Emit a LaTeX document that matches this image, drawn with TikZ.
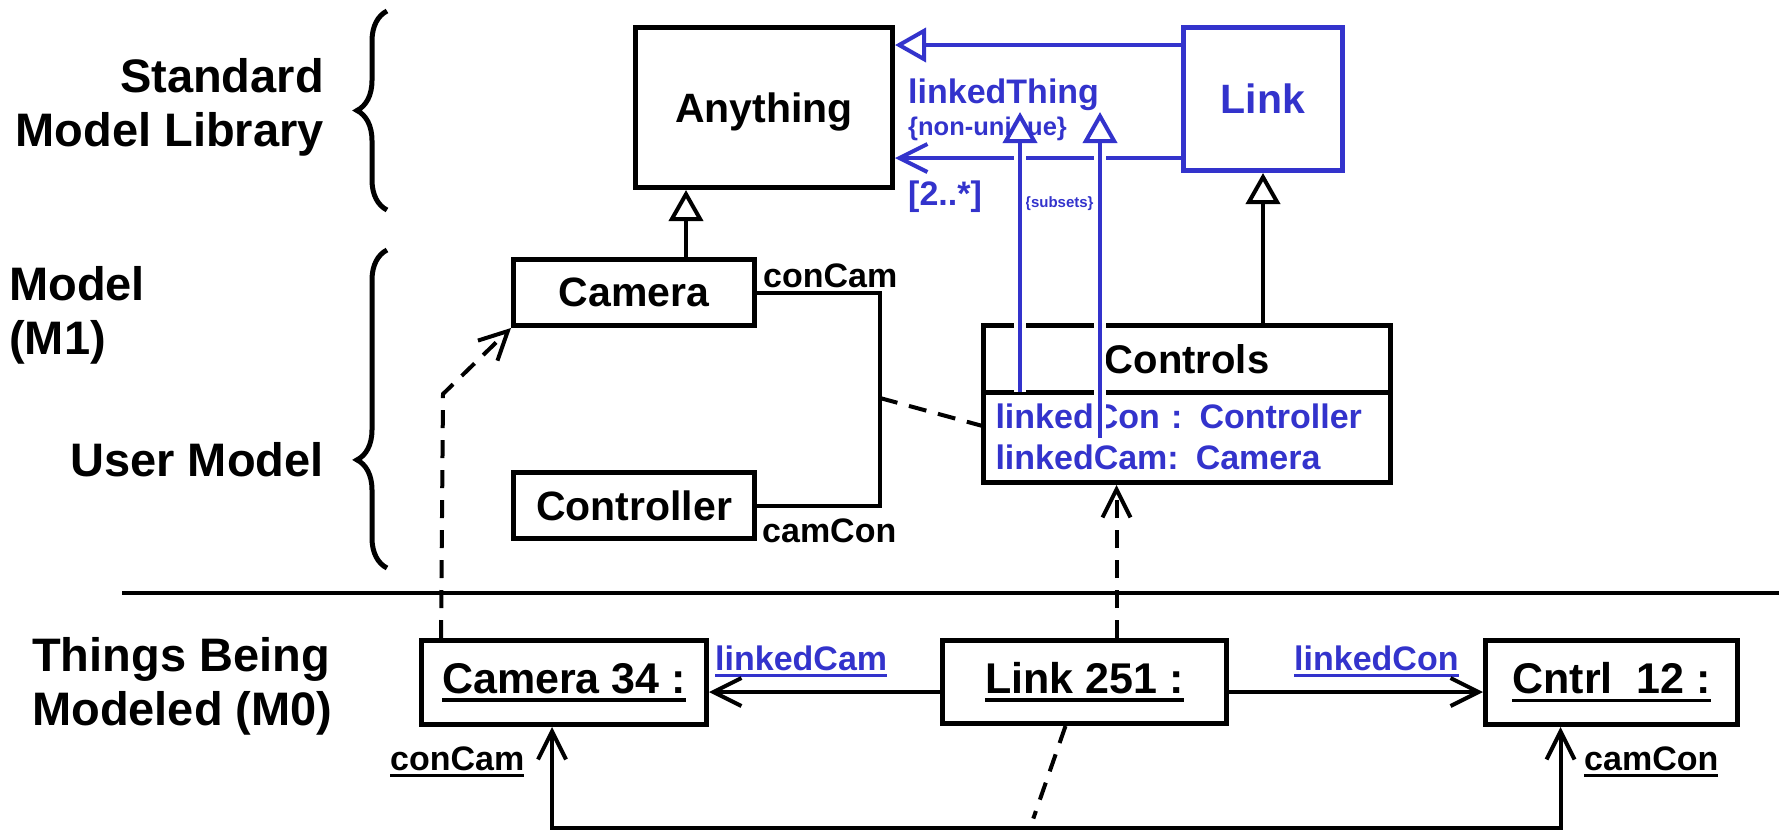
\documentclass[tikz,border=0pt]{standalone}
\usepackage{fontspec}
\setmainfont{Liberation Sans}
\usetikzlibrary{arrows.meta,decorations.pathreplacing}
\definecolor{omgblue}{RGB}{51,51,204}
\newcommand{\fsz}[2]{\fontsize{#1}{#2}\selectfont\bfseries}
\newsavebox{\ulbox}
\newcommand{\ulin}[1]{\sbox{\ulbox}{#1}\rlap{\rule[-0.2em]{\wd\ulbox}{0.08em}}\usebox{\ulbox}}

\begin{document}
\begin{tikzpicture}[x=1pt, y=-1pt, inner sep=0pt,
  >={Straight Barb[length=28pt,width=28pt]},
  box/.style={draw, line width=5pt, text depth=0pt, font=\fsz{41pt}{49pt}},
  objbox/.style={draw, line width=5pt, font=\fsz{43pt}{50pt}},
  side/.style={font=\fsz{47pt}{54pt}},
  lbl/.style={font=\fsz{34pt}{41pt}},
  assoc/.style={line width=4pt},
  gen/.style={line width=4pt, -{Triangle[fill=white,length=31pt,width=34pt]}},
  dashline/.style={line width=4pt, dash pattern=on 18pt off 12pt},
  inst/.style={dashline, ->},
  brc/.style={line width=5pt, decorate, decoration={brace, amplitude=30pt}},
  subs/.style={draw=omgblue, line width=4pt, -{Triangle[fill=white,length=31pt,width=34pt]},
    preaction={draw=white, line width=12pt, -, shorten >=31pt}}]
\useasboundingbox (0,0) rectangle (1779,831);

\node[side, anchor=east, align=right] (stdlib) at (324,107) {Standard\\Model Library};
\node[side, anchor=west, align=left] (mone) at (9,315) {Model\\(M1)};
\node[side, anchor=base east] (usermodel) at (324,476) {User Model};
\node[side, anchor=west, align=left] (mzero) at (32,686) {Things Being\\Modeled (M0)};

\draw[brc] (387,210) -- (387,11);
\draw[brc, decoration={aspect=0.34}] (387,568) -- (387,250);

\draw[line width=4pt] (122,593) -- (1779,593);

\node[box, minimum width=257, minimum height=160] (anything) at (764,107.5) {Anything};
\node[box, draw=omgblue, text=omgblue, minimum width=159, minimum height=143] (link) at (1263,99) {Link};
\node[box, minimum width=241, minimum height=66] (camera) at (634,292.5) {Camera};
\node[box, minimum width=241, minimum height=66] (controller) at (634,505.5) {Controller};
\node[box, outer sep=0pt, font=\fsz{40pt}{48pt}, minimum width=407, minimum height=66.5] (controls) at (1187,358.75) {Controls};
\node[draw, line width=5pt, outer sep=0pt, anchor=north, font=\fsz{34pt}{41pt}, text=omgblue, text width=383, align=left,
  minimum width=407, minimum height=90.5] (ctrlattr) at (controls.south) {linkedCon : Controller\\linkedCam: Camera};
\draw[line width=5pt] (ctrlattr.north west) -- (ctrlattr.north east);

\node[objbox, minimum width=285, minimum height=84] (cam34) at (564,682.5) {\ulin{Camera 34 :}};
\node[objbox, minimum width=284, minimum height=83] (link251) at (1084.5,682) {\ulin{Link 251 :}};
\node[objbox, minimum width=252, minimum height=84] (cntrl12) at (1611.5,682.5) {\ulin{Cntrl\ \ 12 :}};

\node[lbl, anchor=base west, text=omgblue] (thing) at (908,103) {linkedThing};
\node[anchor=base west, font=\fsz{25.5pt}{30pt}, text=omgblue] (nonuniq) at (908,135) {\{non-unique\}};
\node[lbl, anchor=base west, text=omgblue] (mult) at (908,205) {[2..*]};
\node[anchor=base west, font=\fsz{15pt}{18pt}, text=omgblue] (subsets) at (1025,207) {\{subsets\}};
\node[lbl, anchor=base west] (concamA) at (763,287) {conCam};
\node[lbl, anchor=base west] (camconA) at (762,542) {camCon};
\node[lbl, anchor=base west, text=omgblue] (lcam) at (715,670) {\ulin{linkedCam}};
\node[lbl, anchor=base west, text=omgblue] (lcon) at (1294,670) {\ulin{linkedCon}};
\node[lbl, anchor=base west] (concamB) at (390,770) {\ulin{conCam}};
\node[lbl, anchor=base west] (camconB) at (1584,770) {\ulin{camCon}};

\coordinate (assocmid) at (880,398);
\coordinate (instbend) at (443,394);
\coordinate (lowrail) at (1030,828);
\coordinate (subAfoot) at (1020,392);
\coordinate (subAtip) at (1020,112);
\coordinate (subBfoot) at (1100,438);
\coordinate (subBtip) at (1100,112);

\draw[gen, draw=omgblue] ([yshift=54pt]link.west) -- ([yshift=54pt]link.west -| anything.east);
\draw[assoc, draw=omgblue, ->] ([yshift=-59pt]link.west) -- ([yshift=-59pt]link.west -| anything.east);
\draw[gen] ([xshift=52pt]camera.north) -- ([xshift=52pt]camera.north |- anything.south);
\draw[gen] (controls.north -| link.south) -- (link.south);

\draw[assoc] (camera.east) -| (assocmid) |- (controller.east);
\draw[dashline] (assocmid) -- ([yshift=11pt]ctrlattr.west);

\draw[inst] ([xshift=22pt]cam34.north west) -- (instbend) -- (camera.south west);
\draw[inst] ([xshift=32pt]link251.north) -- ([xshift=32pt,yshift=-2.5pt]link251.north |- ctrlattr.south);

\draw[assoc, ->] ([yshift=-10pt]link251.west) -- ([yshift=-10pt]link251.west -| cam34.east);
\draw[assoc, ->] ([yshift=-10pt]link251.east) -- ([yshift=-10pt]link251.east -| cntrl12.west);
\draw[assoc, <->] ([xshift=-12pt]cam34.south) |- (lowrail) -| ([xshift=-51pt]cntrl12.south);
\draw[dashline, shorten >=10pt] ([xshift=-19pt]link251.south) -- (lowrail);

\draw[subs] (subAfoot) -- (subAtip);
\draw[subs] (subBfoot) -- (subBtip);
\end{tikzpicture}
\end{document}
